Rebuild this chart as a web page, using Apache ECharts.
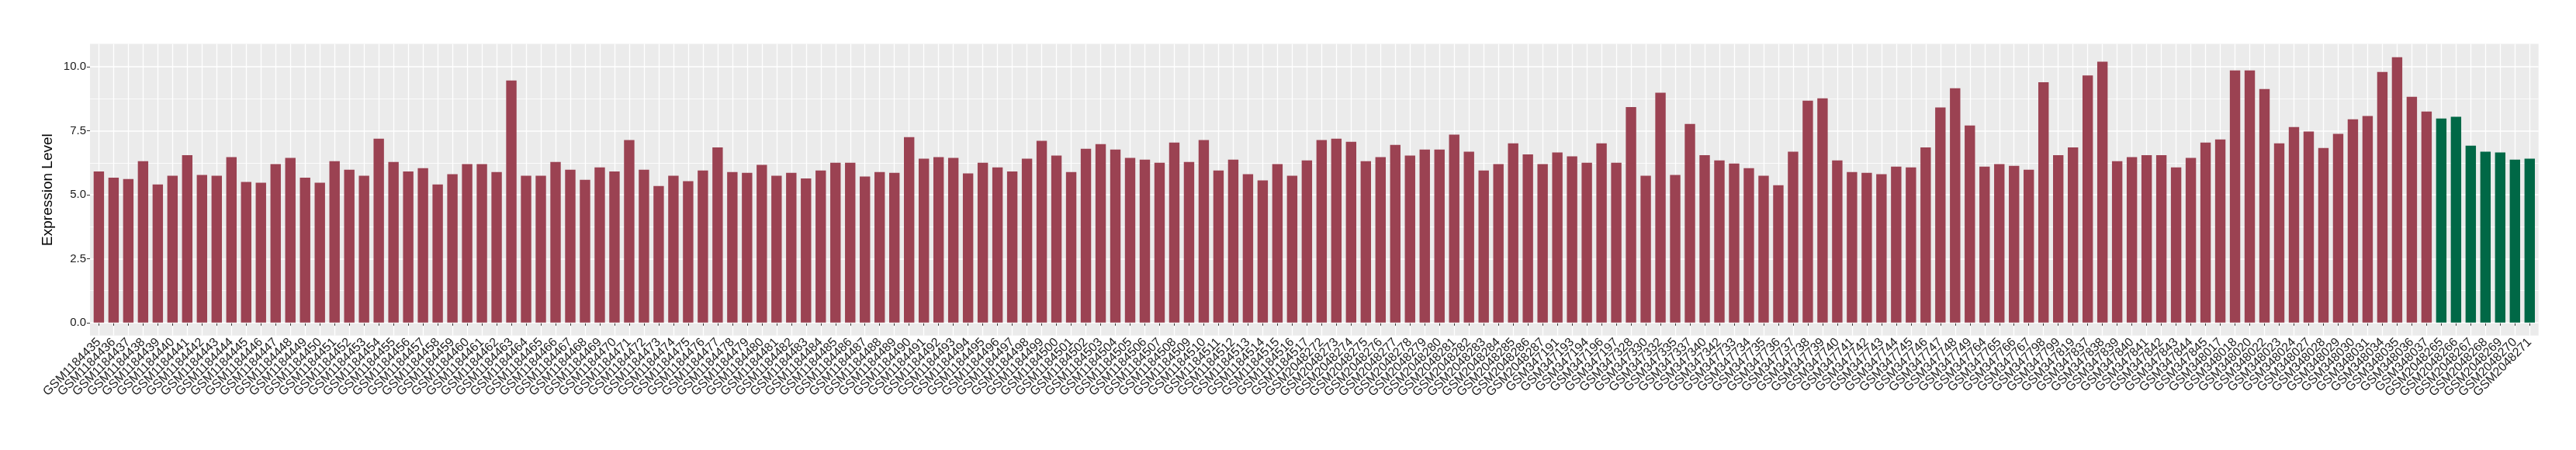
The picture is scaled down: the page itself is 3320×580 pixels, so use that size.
<!DOCTYPE html>
<html>
<head>
<meta charset="utf-8">
<script src="https://cdn.jsdelivr.net/npm/echarts@6/dist/echarts.min.js"></script>
<style>
html, body { margin: 0; padding: 0; background: #ffffff; }
#chart { width: 3320px; height: 580px; }
</style>
</head>
<body>
<div id="chart"></div>
<script>
// ---- Data ----
const groupASamples = [
  'GSM1184435','GSM1184436','GSM1184437','GSM1184438','GSM1184439','GSM1184440','GSM1184441','GSM1184442','GSM1184443','GSM1184444',
  'GSM1184445','GSM1184446','GSM1184447','GSM1184448','GSM1184449','GSM1184450','GSM1184451','GSM1184452','GSM1184453','GSM1184454',
  'GSM1184455','GSM1184456','GSM1184457','GSM1184458','GSM1184459','GSM1184460','GSM1184461','GSM1184462','GSM1184463','GSM1184464',
  'GSM1184465','GSM1184466','GSM1184467','GSM1184468','GSM1184469','GSM1184470','GSM1184471','GSM1184472','GSM1184473','GSM1184474',
  'GSM1184475','GSM1184476','GSM1184477','GSM1184478','GSM1184479','GSM1184480','GSM1184481','GSM1184482','GSM1184483','GSM1184484',
  'GSM1184485','GSM1184486','GSM1184487','GSM1184488','GSM1184489','GSM1184490','GSM1184491','GSM1184492','GSM1184493','GSM1184494',
  'GSM1184495','GSM1184496','GSM1184497','GSM1184498','GSM1184499','GSM1184500','GSM1184501','GSM1184502','GSM1184503','GSM1184504',
  'GSM1184505','GSM1184506','GSM1184507','GSM1184508','GSM1184509','GSM1184510','GSM1184511','GSM1184512','GSM1184513','GSM1184514',
  'GSM1184515','GSM1184516','GSM1184517',
  'GSM2048272','GSM2048273','GSM2048274','GSM2048275','GSM2048276','GSM2048277','GSM2048278','GSM2048279','GSM2048280','GSM2048281',
  'GSM2048282','GSM2048283','GSM2048284','GSM2048285','GSM2048286','GSM2048287',
  'GSM347191','GSM347193','GSM347194','GSM347196','GSM347197','GSM347328','GSM347330','GSM347332','GSM347335','GSM347337',
  'GSM347340','GSM347342',
  'GSM347733','GSM347734','GSM347735','GSM347736','GSM347737','GSM347738','GSM347739','GSM347740','GSM347741','GSM347742',
  'GSM347743','GSM347744','GSM347745','GSM347746','GSM347747','GSM347748','GSM347749',
  'GSM347764','GSM347765','GSM347766','GSM347767',
  'GSM347798','GSM347799','GSM347819','GSM347837','GSM347838','GSM347839','GSM347840','GSM347841','GSM347842','GSM347843',
  'GSM347844','GSM347845',
  'GSM348017','GSM348018','GSM348020','GSM348022','GSM348023','GSM348024','GSM348027','GSM348028','GSM348029','GSM348030',
  'GSM348031','GSM348034','GSM348035','GSM348036','GSM348037'
];
const groupAValues = [
  5.91, 5.67, 5.61, 6.31, 5.40, 5.74, 6.55, 5.77, 5.74, 6.47, 5.50, 5.47, 6.20, 6.44, 5.67,
  5.47, 6.31, 5.98, 5.74, 7.19, 6.28, 5.91, 6.04, 5.40, 5.80, 6.20, 6.20, 5.89, 9.47, 5.74,
  5.74, 6.28, 5.98, 5.58, 6.07, 5.91, 7.14, 5.98, 5.34, 5.74, 5.53, 5.95, 6.85, 5.89, 5.86,
  6.17, 5.74, 5.86, 5.64, 5.95, 6.25, 6.25, 5.71, 5.89, 5.86, 7.25, 6.41, 6.47, 6.44, 5.83,
  6.25, 6.07, 5.91, 6.41, 7.11, 6.53, 5.89, 6.80, 6.98, 6.77, 6.44, 6.37, 6.25, 7.04, 6.28,
  7.14, 5.95, 6.37, 5.80, 5.56, 6.20, 5.74, 6.34, 7.14, 7.19, 7.07, 6.31, 6.47, 6.95, 6.53,
  6.77, 6.77, 7.35, 6.68, 5.95, 6.20, 7.01, 6.58, 6.20, 6.65, 6.50, 6.25, 7.01, 6.25, 8.43,
  5.74, 8.99, 5.77, 7.77, 6.55, 6.34, 6.22, 6.04, 5.74, 5.37, 6.68, 8.68, 8.77, 6.34, 5.89,
  5.86, 5.80, 6.10, 6.07, 6.85, 8.41, 9.16, 7.71, 6.10, 6.20, 6.13, 5.98, 9.40, 6.55, 6.85,
  9.66, 10.20, 6.31, 6.47, 6.55, 6.55, 6.07, 6.44, 7.04, 7.16, 9.86, 9.86, 9.13, 7.01, 7.65,
  7.47, 6.83, 7.38, 7.95, 8.08, 9.80, 10.38, 8.83, 8.25
];
const groupBSamples = ['GSM2048265','GSM2048266','GSM2048267','GSM2048268','GSM2048269','GSM2048270','GSM2048271'];
const groupBValues = [7.98, 8.05, 6.92, 6.68, 6.65, 6.37, 6.41];

const yTickValues = [0, 2.5, 5, 7.5, 10];
const yMinorValues = [1.25, 3.75, 6.25, 8.75];
const yTitle = 'Expression Level';

// ---- Build chart ----
const colorA = '#9B4252';
const colorB = '#006846';
const categories = groupASamples.concat(groupBSamples);
const barData = groupAValues.map(v => ({ value: v, itemStyle: { color: colorA } }))
  .concat(groupBValues.map(v => ({ value: v, itemStyle: { color: colorB } })));

const Y_MIN = -0.51, Y_MAX = 10.9;
const FONT = "'Liberation Sans', Arial, Helvetica, sans-serif";
const TEXT = '#1A1A1A';

const chart = echarts.init(document.getElementById('chart'), null, { renderer: 'canvas' });
chart.setOption({
  animation: false,
  backgroundColor: '#ffffff',
  grid: [
    { left: 116, right: 48.3, top: 56.5, bottom: 147.4, show: true, backgroundColor: '#EBEBEB', borderWidth: 0 },
    { left: 127.4, right: 59.7, top: 56.5, bottom: 147.4 }
  ],
  xAxis: [
    { gridIndex: 0, type: 'value', min: 0, max: 1, show: false },
    {
      gridIndex: 1, type: 'category', data: categories, boundaryGap: false,
      axisLine: { show: false },
      axisTick: { show: true, length: 4, lineStyle: { color: '#333333', width: 1 } },
      axisLabel: { interval: 0, rotate: 45, fontSize: 16, fontFamily: FONT, color: TEXT, margin: 6, padding: [16, 0, 0, 0] },
      splitLine: { show: true, lineStyle: { color: '#ffffff', width: 1.3 } }
    }
  ],
  yAxis: [
    {
      gridIndex: 0, type: 'value', min: Y_MIN, max: Y_MAX,
      name: yTitle, nameLocation: 'middle', nameGap: 33, nameRotate: 90,
      nameTextStyle: { fontSize: 19, fontFamily: FONT, color: '#000000' },
      axisLine: { show: false },
      axisTick: { show: true, length: 4, customValues: yTickValues, lineStyle: { color: '#333333', width: 1 } },
      axisLabel: { customValues: yTickValues, formatter: v => Number(v).toFixed(1), fontSize: 15, fontFamily: FONT, color: TEXT, margin: 5 },
      splitLine: { show: false }
    },
    { gridIndex: 1, type: 'value', min: Y_MIN, max: Y_MAX, show: false }
  ],
  series: [
    {
      type: 'line', xAxisIndex: 0, yAxisIndex: 0, data: [], silent: true,
      markLine: {
        silent: true, symbol: 'none', z: 1, animation: false,
        label: { show: false },
        data: yMinorValues.map(v => ({ yAxis: v, lineStyle: { color: '#ffffff', width: 0.8, type: 'solid' } }))
          .concat(yTickValues.map(v => ({ yAxis: v, lineStyle: { color: '#ffffff', width: 1.5, type: 'solid' } })))
      }
    },
    {
      type: 'bar', xAxisIndex: 1, yAxisIndex: 1, data: barData,
      barWidth: 13.4, clip: false, z: 3
    }
  ]
});
</script>
</body>
</html>
